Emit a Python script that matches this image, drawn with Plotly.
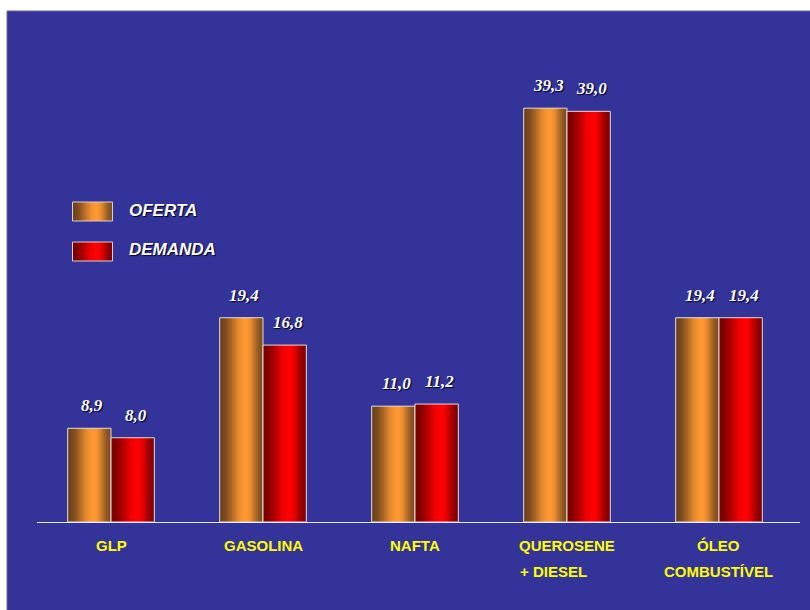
import math
import plotly.graph_objects as go

# ---- data ----
categories = ["GLP", "GASOLINA", "NAFTA", "QUEROSENE\n+ DIESEL", "ÓLEO\nCOMBUSTÍVEL"]
oferta = [8.9, 19.4, 11.0, 39.3, 19.4]
demanda = [8.0, 16.8, 11.2, 39.0, 19.4]
series_names = ["OFERTA", "DEMANDA"]

# ---- style ----
BLUE = "#333399"
W = 0.285          # bar width in category units
N = 24             # gradient slices
PLOT_L, PLOT_R, PLOT_T, PLOT_B = 37, 800, 11, 522
FIG_W, FIG_H = 810, 610


def lerp(c1, c2, f):
    return "rgb(%d,%d,%d)" % tuple(round(a + (b - a) * f) for a, b in zip(c1, c2))


def grad(t, dark_l, bright, dark_r, peak=0.6):
    if t < peak:
        f = 0.5 - 0.5 * math.cos(math.pi * t / peak)
        return lerp(dark_l, bright, f)
    f = 0.5 + 0.5 * math.cos(math.pi * (t - peak) / (1 - peak))
    return lerp(dark_r, bright, f)


pal = {
    "OFERTA": ((110, 66, 28), (255, 153, 51), (125, 78, 32)),
    "DEMANDA": ((120, 0, 0), (255, 0, 0), (128, 0, 0)),
}
bases = {"OFERTA": -W, "DEMANDA": 0.0}
values = {"OFERTA": oferta, "DEMANDA": demanda}

xs = list(range(len(categories)))
fig = go.Figure()

for name in series_names:
    base = bases[name]
    for i in range(N):
        off = base + i * W / N
        wid = min(W / N * 1.7, base + W - off)
        fig.add_trace(go.Bar(
            x=xs, y=values[name], offset=off, width=wid,
            marker=dict(color=grad((i + 0.5) / N, *pal[name]), line=dict(width=0)),
            hoverinfo="skip", showlegend=False,
        ))
    fig.add_trace(go.Bar(
        x=xs, y=values[name], offset=base, width=W,
        marker=dict(color="rgba(0,0,0,0)", line=dict(color="#e4dcd4", width=1)),
        hoverinfo="skip", showlegend=False,
    ))

annotations = []
# value labels
for name in series_names:
    for x, v in zip(xs, values[name]):
        annotations.append(dict(
            x=x + bases[name] + W / 2, y=v, xref="x", yref="y",
            text=f"{v:.1f}".replace(".", ","), showarrow=False,
            yanchor="bottom", yshift=11, xshift=3,
            font=dict(family="Liberation Serif", size=17, color="white",
                      weight="bold", style="italic", shadow="1px 1px 1px #000022"),
        ))

# category labels
cat_font = dict(family="Liberation Sans", size=15, color="#ffff00", weight="bold")
second_left_shift = {3: -49}
for x, cat in zip(xs, categories):
    lines = cat.split("\n")
    annotations.append(dict(x=x, y=0, xref="x", yref="paper", text=lines[0],
                            showarrow=False, yanchor="middle", yshift=-23.5,
                            font=cat_font))
    if len(lines) > 1:
        if x in second_left_shift:
            annotations.append(dict(x=x, y=0, xref="x", yref="paper", text=lines[1],
                                    showarrow=False, yanchor="middle", yshift=-49,
                                    xanchor="left", xshift=second_left_shift[x],
                                    font=cat_font))
        else:
            annotations.append(dict(x=x, y=0, xref="x", yref="paper", text=lines[1],
                                    showarrow=False, yanchor="middle", yshift=-49,
                                    font=cat_font))

pw = PLOT_R - PLOT_L
ph = PLOT_B - PLOT_T


def px_x(p):
    return (p - PLOT_L) / pw


def px_y(p):
    return (PLOT_B - p) / ph


shapes = [dict(type="rect", xref="paper", yref="paper",
               x0=px_x(7), x1=px_x(FIG_W + 2), y0=px_y(FIG_H + 2), y1=px_y(11),
               fillcolor=BLUE, line=dict(color="#6a6a9e", width=1), layer="below")]

# legend
leg_y = {"OFERTA": (202, 221, 210), "DEMANDA": (242, 261, 249.5)}
sx0, sx1 = 72.5, 112.5
for name in series_names:
    top, bot, mid = leg_y[name]
    for i in range(N):
        a = sx0 + (sx1 - sx0) * i / N
        b = min(sx1, sx0 + (sx1 - sx0) * (i + 1.7) / N)
        shapes.append(dict(type="rect", xref="paper", yref="paper",
                           x0=px_x(a), x1=px_x(b), y0=px_y(bot), y1=px_y(top),
                           fillcolor=grad((i + 0.5) / N, *pal[name]),
                           line=dict(width=0)))
    shapes.append(dict(type="rect", xref="paper", yref="paper",
                       x0=px_x(sx0), x1=px_x(sx1), y0=px_y(bot), y1=px_y(top),
                       fillcolor="rgba(0,0,0,0)", line=dict(color="#d8d0cc", width=1)))
    annotations.append(dict(x=px_x(127), y=px_y(mid), xref="paper", yref="paper",
                            text=name, showarrow=False, xanchor="left", yanchor="middle",
                            font=dict(family="Liberation Sans", size=17, color="white",
                                      weight="bold", style="italic",
                                      shadow="1px 1px 1px #000022")))

fig.update_layout(
    width=FIG_W, height=FIG_H,
    margin=dict(l=PLOT_L, r=FIG_W - PLOT_R, t=PLOT_T, b=FIG_H - PLOT_B, pad=0),
    paper_bgcolor="white", plot_bgcolor="rgba(0,0,0,0)",
    barmode="overlay", showlegend=False,
    xaxis=dict(range=[-0.487, 4.533], showticklabels=False, showgrid=False,
               zeroline=False, showline=True, linecolor="#e8e8f0", linewidth=1,
               ticks="", fixedrange=True),
    yaxis=dict(range=[0, ph / 10.53], showticklabels=False, showgrid=False,
               zeroline=False, showline=False, ticks="", fixedrange=True),
    shapes=shapes, annotations=annotations,
)

fig.write_html("out.html")
